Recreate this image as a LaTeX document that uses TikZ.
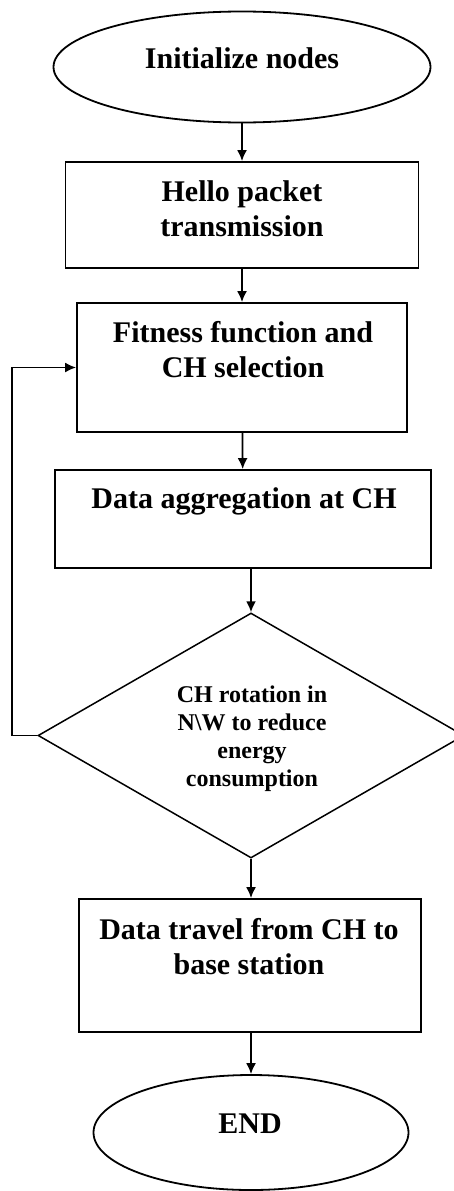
\documentclass[tikz,border=0pt]{standalone}
\usepackage{fontspec}
\setmainfont{Liberation Serif}
\usetikzlibrary{positioning}
\usetikzlibrary{shapes.geometric}
\usetikzlibrary{arrows.meta}

\tikzset{
  term/.style={draw, ellipse, line width=1.8pt, inner sep=0pt},
  procbox/.style={draw, rectangle, line width=1.8pt, inner sep=0pt},
  decide/.style={draw, diamond, line width=1.5pt, inner sep=0pt},
  arr/.style={line width=1.8pt, -{Latex[length=11pt,width=10pt]}},
  bigtxt/.style={font=\bfseries\fontsize{30}{35}\selectfont, align=center, inner sep=0pt},
  smalltxt/.style={font=\bfseries\fontsize{24}{28}\selectfont, align=center, inner sep=0pt}
}

\begin{document}
\begin{tikzpicture}[x=1pt,y=-1pt]
\useasboundingbox[fill=white] (0,0) rectangle (454,1191);

\node[term, minimum width=377pt, minimum height=111pt] (start) at (242,67) {};
\node[bigtxt, anchor=base] (start-t) at (242,68) {Initialize nodes};

\node[procbox, minimum width=353pt, minimum height=106pt] (hello) at (242,215) {};
\node[bigtxt, anchor=north] (hello-t) at (242,180) {Hello packet\\transmission};

\node[procbox, minimum width=330pt, minimum height=129pt] (fit) at (242,367.5) {};
\node[bigtxt, anchor=north] (fit-t) at (243,321) {Fitness function and\\CH selection};

\node[procbox, minimum width=376pt, minimum height=98pt] (aggr) at (243,519) {};
\node[bigtxt, anchor=base] (aggr-t) at (244,508) {Data aggregation at CH};

\node[decide, minimum width=426pt, minimum height=245pt] (dec) at (251,735.5) {};
\node[smalltxt, anchor=north] (dec-t) at (252,686) {CH rotation in\\N\textbackslash W to reduce\\energy\\consumption};

\node[procbox, minimum width=342pt, minimum height=133pt] (trav) at (250,965.5) {};
\node[bigtxt, anchor=north] (trav-t) at (249,918) {Data travel from CH to\\base station};

\node[term, minimum width=315pt, minimum height=115pt] (end) at (251,1132.5) {};
\node[bigtxt, anchor=base] (end-t) at (250,1133) {END};

\draw[arr] (start) -- (hello);
\draw[arr] (hello) -- (fit);
\draw[arr] (fit) -- (aggr);
\draw[arr] (aggr.south -| dec.north) -- (dec.north);
\draw[arr] (dec) -- (trav.north -| dec.south);
\draw[arr] (trav.south -| end.north) -- (end);
\draw[arr] (dec.west) -- ++(-25,0) |- (fit.west);
\end{tikzpicture}
\end{document}
